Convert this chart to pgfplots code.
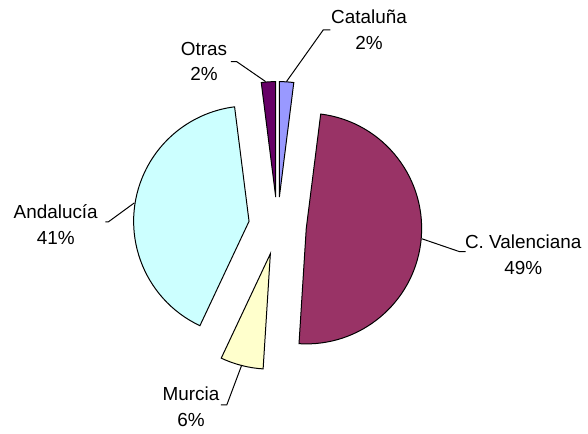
\documentclass[border=0pt]{standalone}
\usepackage{pgfplots}
\pgfplotsset{compat=1.18}
\usepackage{pgfplotstable}
\usepackage{fontspec}
\setmainfont{Liberation Sans}

% Excel default pie colours, in slice order
\definecolor{slice0}{HTML}{9999FF}
\definecolor{slice1}{HTML}{993366}
\definecolor{slice2}{HTML}{FFFFCC}
\definecolor{slice3}{HTML}{CCFFFF}
\definecolor{slice4}{HTML}{660066}

% shares in percent, clockwise from 12 o'clock
\pgfplotstableread{
name value
Cataluna 2
Valenciana 49
Murcia 6
Andalucia 41
Otras 2
}\pietable

\begin{document}
\begin{tikzpicture}[lbl/.style={align=center, font=\fontsize{9.5}{12.8}\selectfont}]
\begin{axis}[
    scale only axis, width=294pt, height=214.5pt,
    xmin=0, xmax=588, ymin=0, ymax=429,
    hide axis, clip=false,
]
\path (axis cs:0,0) (axis cs:588,429);
\pgfplotsextra{
  \gdef\cum{0}
  \pgfplotstablegetrowsof{\pietable}
  \pgfmathtruncatemacro\lastrow{\pgfplotsretval-1}
  \foreach \i in {0,...,\lastrow}{
    \pgfplotstablegetelem{\i}{value}\of\pietable
    \pgfmathsetmacro\v{\pgfplotsretval}
    \pgfmathsetmacro\aO{90-3.6*\cum}
    \pgfmathsetmacro\aI{90-3.6*(\cum+\v)}
    \pgfmathsetmacro\am{(\aO+\aI)/2}
    \path (axis cs:279,202) ++(\am:14.5pt) coordinate (c);
    \filldraw[fill=slice\i, draw=black, line width=0.5pt]
      (c) -- ++(\aO:58pt) arc[start angle=\aO, end angle=\aI, radius=58pt] -- cycle;
    \pgfmathsetmacro\c{\cum+\v}
    \xdef\cum{\c}
  }
}

% labels and leader lines
\draw[line width=0.5pt] (axis cs:288,347) -- (axis cs:325,399) -- (axis cs:332,399);
\node[lbl] at (axis cs:371,399) {Cataluña\\2\%};

\draw[line width=0.5pt] (axis cs:267,347) -- (axis cs:238,367) -- (axis cs:232,367);
\node[lbl] at (axis cs:205,367) {Otras\\2\%};

\draw[line width=0.5pt] (axis cs:135,225) -- (axis cs:109,206) -- (axis cs:106,206);
\node[lbl] at (axis cs:56,203) {Andalucía\\41\%};

\draw[line width=0.5pt] (axis cs:424,189) -- (axis cs:462,176) -- (axis cs:468,176);
\node[lbl] at (axis cs:526,173) {C. Valenciana\\49\%};

\draw[line width=0.5pt] (axis cs:243,62) -- (axis cs:228,22) -- (axis cs:222,22);
\node[lbl] at (axis cs:192,20) {Murcia\\6\%};
\end{axis}
\end{tikzpicture}
\end{document}
